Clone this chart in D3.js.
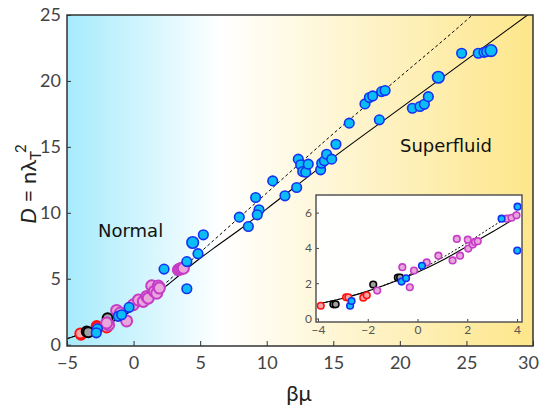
<!DOCTYPE html>
<html>
<head>
<meta charset="utf-8" />
<title>D vs beta mu</title>
<script src="https://cdn.jsdelivr.net/npm/d3@7"></script>
<style>
  html, body { margin: 0; background: #fff; }
  svg text { font-family: Lato, "Open Sans", sans-serif; }
</style>
</head>
<body>
<div id="chart"></div>
<script>
// ---- data ----
// theory curves (main)
var solidX  = [-5, -4, -3, -2, -1, 0, 1, 2, 3, 4, 5, 6, 8, 10, 15, 20, 25, 30];
var solidY  = [0.45, 0.8, 1.15, 1.55, 2.05, 2.65, 3.3, 4.1, 4.9, 5.75, 6.55, 7.3, 8.75, 10.3, 14.2, 17.9, 21.6, 25.3];
var dashX   = [-5, -4, -3, -2, -1, 0, 1, 2, 3, 4, 5, 6, 8, 10, 15, 20, 25, 26];
var dashY   = [0.45, 0.8, 1.15, 1.55, 2.1, 2.75, 3.45, 4.3, 5.2, 6.1, 7.0, 7.9, 9.7, 11.5, 16.0, 20.3, 24.6, 25.5];

// main plot markers
var blueX = [-2.72, -2.8, -1.15, -0.9, -0.34, 2.29, 4.0, 4.0, 4.84, 4.44, 5.24, 7.94, 8.62, 9.17, 9.42, 9.29,
             10.45, 11.37, 12.25, 12.37, 12.55, 12.7, 12.93, 13.12, 14.05, 14.13, 14.33, 14.5, 14.88, 15.2,
             16.2, 17.38, 17.71, 17.96, 18.63, 18.89, 18.46, 20.94, 21.51, 21.84, 22.14, 22.89, 24.64, 25.89,
             26.32, 26.52, 26.85];
var blueY = [1.2, 0.9, 2.15, 2.27, 2.83, 5.73, 6.3, 4.24, 6.9, 7.75, 8.33, 9.67, 8.96, 11.16, 10.23, 9.85,
             12.42, 11.29, 11.92, 14.07, 13.64, 13.13, 13.08, 13.69, 13.26, 13.76, 13.94, 14.44, 14.07, 15.2,
             16.8, 18.26, 18.74, 18.86, 19.19, 19.27, 17.05, 17.93, 18.06, 18.23, 18.81, 20.28, 22.1, 22.1,
             22.17, 22.22, 22.3];
var blueBig = [0, 0, 0, 0, 0, 0, 0, 0, 0, 1, 0, 0, 0, 0, 0, 0,
               0, 0, 0, 0, 0, 0, 0, 0, 0, 0, 0, 0, 0, 0,
               0, 0, 0, 0, 0, 0, 0, 0, 0, 0, 0, 1, 0, 0,
               0, 0, 1];
var pinkX = [-1.87, -2.02, -1.27, -1.0, -0.52, -0.02, 0.36, 0.73, 0.99, 1.1, 1.36, 1.56, 1.74, 1.86, 1.94, 3.36, 3.49, 3.61, 3.74];
var pinkY = [1.5, 1.64, 2.6, 2.4, 1.8, 3.03, 3.38, 3.28, 3.66, 3.53, 4.47, 4.04, 3.9, 4.45, 4.29, 5.68, 5.73, 5.8, 5.8];
var redX  = [-3.95, -4.0, -2.77, -2.75, -2.02];
var redY  = [0.75, 0.85, 1.42, 1.3, 1.3];
var grayX = [-3.52, -3.4, -1.95];
var grayY = [1.0, 0.95, 2.0];

// inset curves
var inSolidX = [-4, -3, -2, -1, 0, 1, 2, 3, 4];
var inSolidY = [0.82, 1.15, 1.55, 2.05, 2.62, 3.3, 4.1, 4.9, 5.75];
var inDashX  = [-4, -3, -2, -1, 0, 1, 2, 3, 4];
var inDashY  = [0.82, 1.15, 1.55, 2.08, 2.7, 3.45, 4.3, 5.2, 6.08];

// inset markers
var inRedX  = [-3.89, -2.87, -2.78, -2.18, -2.04];
var inRedY  = [0.72, 1.2, 1.2, 1.18, 1.31];
var inGrayX = [-3.38, -3.29, -1.78, -0.79, -0.7];
var inGrayY = [0.8, 0.8, 1.92, 2.32, 2.32];
var inBlueX = [-2.71, -2.65, -0.64, -0.46, 0.18, 3.38, 4.02, 4.01];
var inBlueY = [0.72, 0.99, 2.09, 2.28, 2.99, 5.66, 6.34, 3.85];
var inPinkX = [-1.62, -0.61, -0.31, -0.14, 0.37, 0.84, 1.41, 1.58, 1.71, 2.02, 2.04, 2.22, 2.31, 2.42, 3.58, 3.78, 3.98];
var inPinkY = [1.58, 2.91, 1.77, 2.72, 3.18, 3.56, 3.29, 4.51, 3.56, 4.47, 3.96, 4.19, 4.34, 4.38, 5.66, 5.71, 5.85];

var xTicks = [-5, 0, 5, 10, 15, 20, 25, 30];
var yTicks = [0, 5, 10, 15, 20, 25];
var inXTicks = [-4, -2, 0, 2, 4];
var inYTicks = [0, 2, 4, 6];

function zip(xs, ys) { return xs.map(function (v, i) { return [v, ys[i]]; }); }

var W = 541, H = 407;
var svg = d3.select('#chart').append('svg').attr('width', W).attr('height', H);

var x = d3.scaleLinear().domain([-5, 30]).range([67, 533]);
var y = d3.scaleLinear().domain([-0.1, 25]).range([346, 15]);

var defs = svg.append('defs');
var grad = defs.append('linearGradient').attr('id', 'bg').attr('x1', '0%').attr('x2', '100%').attr('y1', '0%').attr('y2', '0%');
grad.append('stop').attr('offset', '0%').attr('stop-color', '#a6ebfc');
grad.append('stop').attr('offset', '33%').attr('stop-color', '#ffffff');
grad.append('stop').attr('offset', '100%').attr('stop-color', '#fde68a');
defs.append('clipPath').attr('id', 'clipMain').append('rect')
  .attr('x', x.range()[0]).attr('y', y.range()[1])
  .attr('width', x.range()[1] - x.range()[0]).attr('height', y.range()[0] - y.range()[1]);

svg.append('rect')
  .attr('x', x.range()[0]).attr('y', y.range()[1])
  .attr('width', x.range()[1] - x.range()[0]).attr('height', y.range()[0] - y.range()[1])
  .attr('fill', 'url(#bg)');

var line = d3.line().x(function (d) { return x(d[0]); }).y(function (d) { return y(d[1]); }).curve(d3.curveMonotoneX);
var g = svg.append('g').attr('clip-path', 'url(#clipMain)');
g.append('path').datum(zip(solidX, solidY)).attr('d', line)
  .attr('fill', 'none').attr('stroke', '#000').attr('stroke-width', 1.1);
g.append('path').datum(zip(dashX, dashY)).attr('d', line)
  .attr('fill', 'none').attr('stroke', '#000').attr('stroke-width', 1).attr('stroke-dasharray', '3,2.5');

function dots(sel, xs, ys, r, fill, stroke, sw, xs_, ys_) {
  sel.selectAll(null).data(zip(xs, ys)).enter().append('circle')
    .attr('cx', function (d) { return xs_(d[0]); })
    .attr('cy', function (d) { return ys_(d[1]); })
    .attr('r', r).attr('fill', fill).attr('stroke', stroke).attr('stroke-width', sw);
}
dots(g, redX, redY, 5, '#ffa4a4', '#ff1010', 2, x, y);
dots(g, grayX, grayY, 5, '#a0a0a0', '#000', 2, x, y);
dots(g, pinkX, pinkY, 5.5, '#e8a6dc', '#c63cc6', 2, x, y);
g.selectAll(null).data(blueX.map(function (v, i) { return [v, blueY[i], blueBig[i]]; })).enter().append('circle')
  .attr('cx', function (d) { return x(d[0]); })
  .attr('cy', function (d) { return y(d[1]); })
  .attr('r', function (d) { return d[2] ? 5.8 : 4.8; })
  .attr('fill', '#0abdf5').attr('stroke', '#1530f0').attr('stroke-width', 1.6);

// axes (ticks inward)
svg.append('g').attr('transform', 'translate(0,' + y.range()[0] + ')')
  .call(d3.axisBottom(x).tickValues(xTicks).tickSize(-5).tickPadding(10).tickFormat(d3.format('d')))
  .call(function (a) {
    a.select('.domain').remove();
    a.selectAll('line').attr('stroke', '#333');
    a.selectAll('text').attr('font-size', 18).attr('fill', '#444');
    a.selectAll('text').filter(function (d) { return d === 30; }).attr('dx', -5);
  });
svg.append('g').attr('transform', 'translate(' + x.range()[0] + ',0)')
  .call(d3.axisLeft(y).tickValues(yTicks).tickSize(-4).tickPadding(6).tickFormat(d3.format('d')))
  .call(function (a) {
    a.select('.domain').remove();
    a.selectAll('line').attr('stroke', '#333');
    a.selectAll('text').attr('font-size', 18).attr('fill', '#444');
  });
svg.append('rect')
  .attr('x', x.range()[0]).attr('y', y.range()[1])
  .attr('width', x.range()[1] - x.range()[0]).attr('height', y.range()[0] - y.range()[1])
  .attr('fill', 'none').attr('stroke', '#333').attr('stroke-width', 1.5);

svg.append('text').attr('x', 98).attr('y', 237).attr('font-size', 18)
  .style('font-family', '"DejaVu Sans", sans-serif').attr('fill', '#111').text('Normal');
svg.append('text').attr('x', 400).attr('y', 152).attr('font-size', 18)
  .style('font-family', '"DejaVu Sans", sans-serif').attr('fill', '#111').text('Superfluid');

svg.append('text').attr('x', 299).attr('y', 401).attr('text-anchor', 'middle')
  .attr('font-size', 22).attr('fill', '#222').text('βμ');
var yl = svg.append('text').attr('transform', 'translate(36,184) rotate(-90)')
  .attr('text-anchor', 'middle').attr('font-size', 22).attr('fill', '#222');
yl.append('tspan').attr('font-style', 'italic').text('D');
yl.append('tspan').text(' = nλ');
yl.append('tspan').attr('font-size', 15).attr('dy', 5).text('T');
yl.append('tspan').attr('font-size', 15).attr('dy', -15).attr('dx', -2).text('2');

// ---- inset ----
var ix = d3.scaleLinear().domain([-4.08, 4.2]).range([316, 522]);
var iy = d3.scaleLinear().domain([-0.2, 7]).range([322, 195]);
defs.append('clipPath').attr('id', 'clipIn').append('rect')
  .attr('x', ix.range()[0]).attr('y', iy.range()[1])
  .attr('width', ix.range()[1] - ix.range()[0]).attr('height', iy.range()[0] - iy.range()[1]);
svg.append('rect')
  .attr('x', ix.range()[0]).attr('y', iy.range()[1])
  .attr('width', ix.range()[1] - ix.range()[0]).attr('height', iy.range()[0] - iy.range()[1])
  .attr('fill', '#fffffd');
var ig = svg.append('g').attr('clip-path', 'url(#clipIn)');
var iline = d3.line().x(function (d) { return ix(d[0]); }).y(function (d) { return iy(d[1]); }).curve(d3.curveMonotoneX);
ig.append('path').datum(zip(inSolidX, inSolidY)).attr('d', iline)
  .attr('fill', 'none').attr('stroke', '#000').attr('stroke-width', 1.1);
ig.append('path').datum(zip(inDashX, inDashY)).attr('d', iline)
  .attr('fill', 'none').attr('stroke', '#000').attr('stroke-width', 1).attr('stroke-dasharray', '2,2');
dots(ig, inRedX, inRedY, 3.3, '#ffa4a4', '#ff1010', 1.6, ix, iy);
dots(ig, inGrayX, inGrayY, 3.3, '#a0a0a0', '#000', 1.6, ix, iy);
dots(ig, inPinkX, inPinkY, 3.3, '#e8a6dc', '#c63cc6', 1.6, ix, iy);
dots(ig, inBlueX, inBlueY, 3.3, '#0abdf5', '#1530f0', 1.6, ix, iy);

svg.append('g').attr('transform', 'translate(0,' + iy.range()[0] + ')')
  .call(d3.axisBottom(ix).tickValues(inXTicks).tickSize(-3).tickPadding(3).tickFormat(d3.format('d')))
  .call(function (a) {
    a.select('.domain').remove();
    a.selectAll('line').attr('stroke', '#444');
    a.selectAll('text').attr('font-size', 12).attr('fill', '#555');
  });
svg.append('g').attr('transform', 'translate(' + ix.range()[0] + ',0)')
  .call(d3.axisLeft(iy).tickValues(inYTicks).tickSize(-3).tickPadding(4).tickFormat(d3.format('d')))
  .call(function (a) {
    a.select('.domain').remove();
    a.selectAll('line').attr('stroke', '#444');
    a.selectAll('text').attr('font-size', 12).attr('fill', '#555');
  });
svg.append('rect')
  .attr('x', ix.range()[0]).attr('y', iy.range()[1])
  .attr('width', ix.range()[1] - ix.range()[0]).attr('height', iy.range()[0] - iy.range()[1])
  .attr('fill', 'none').attr('stroke', '#555').attr('stroke-width', 1.5);
</script>
</body>
</html>
